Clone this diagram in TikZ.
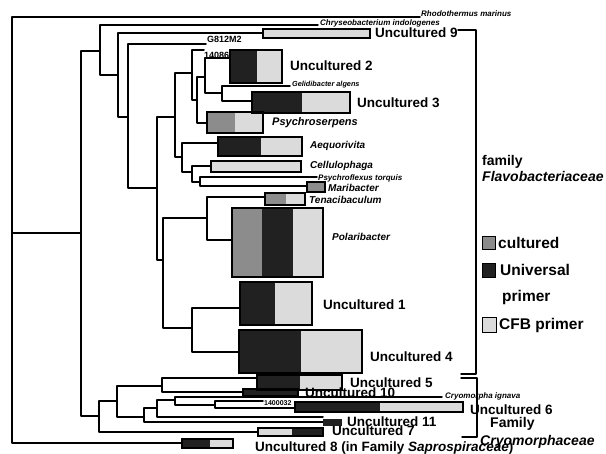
\documentclass[tikz,border=0pt]{standalone}
\usepackage{fontspec}
\setmainfont{Liberation Sans}
\usetikzlibrary{fit}
\definecolor{cul}{gray}{0.55}
\definecolor{uni}{gray}{0.13}
\definecolor{cfb}{gray}{0.86}
\tikzset{
  ln/.style={line width=1.5pt, line join=round, line cap=round},
  bx/.style={draw, line width=1.2pt, inner sep=0pt, rectangle},
  big/.style={font=\fontsize{13.5}{14}\selectfont\bfseries, anchor=west, inner sep=0pt},
  gen/.style={font=\fontsize{10}{11}\selectfont\bfseries\itshape, anchor=west, inner sep=0pt},
  tinylab/.style={font=\fontsize{8}{9}\selectfont\bfseries\itshape, anchor=west, inner sep=0pt},
  numlab/.style={font=\fontsize{9}{10}\selectfont\bfseries, anchor=west, inner sep=0pt},
  leg/.style={font=\fontsize{14}{15}\selectfont\bfseries, anchor=west, inner sep=0pt},
  legb/.style={font=\fontsize{15.5}{16}\selectfont\bfseries, anchor=west, inner sep=0pt},
}
\begin{document}
\begin{tikzpicture}[x=1pt,y=-1pt]
\useasboundingbox (0,0) rectangle (606,454);
% internal nodes
\coordinate (R) at (12,233);
\coordinate (M) at (81,233);
\coordinate (F) at (100,51);
\coordinate (G) at (118,75);
\coordinate (H) at (128,117);
\coordinate (I) at (157,188);
\coordinate (J) at (175,117);
\coordinate (N2) at (192,73);
\coordinate (N3) at (197,100);
\coordinate (N4) at (205,77);
\coordinate (N6) at (222,93);
\coordinate (N5) at (182,157);
\coordinate (N7) at (192,172);
\coordinate (N8) at (200,182);
\coordinate (K) at (163,260);
\coordinate (L) at (207,218);
\coordinate (M2) at (192,328);
\coordinate (C) at (99,416);
\coordinate (D) at (117,401);
\coordinate (Q) at (162,386);
\coordinate (E) at (144,417);
\coordinate (E2) at (157,408);
\coordinate (S) at (175,400);
\coordinate (T) at (215,405);
% leaf ends
\coordinate (rho) at (420,17);
\coordinate (chl) at (318,25);
\coordinate (u9l) at (263,33);
\coordinate (g8l) at (206,44);
\coordinate (l14) at (204,50);
\coordinate (u2l) at (230,58);
\coordinate (gel) at (290,86);
\coordinate (u3l) at (252,101);
\coordinate (psl) at (207,123);
\coordinate (aql) at (218,143);
\coordinate (cel) at (211,166);
\coordinate (pfl) at (317,177);
\coordinate (mal) at (307,186);
\coordinate (tel) at (265,197);
\coordinate (pol) at (232,240);
\coordinate (u1l) at (240,308);
\coordinate (u4l) at (239,352);
\coordinate (u5l) at (257,378);
\coordinate (u10l) at (243,392);
\coordinate (cryl) at (442,397);
\coordinate (l140) at (263,401);
\coordinate (u6l) at (295,408);
\coordinate (u11m) at (323,417);
\coordinate (u11l) at (323,422);
\coordinate (u7l) at (258,432);
\coordinate (u8l) at (182,443);
% edges
\draw[ln] (R) |- (rho);
\draw[ln] (R) |- (M);
\draw[ln] (R) |- (u8l);
\draw[ln] (M) |- (F);
\draw[ln] (M) |- (C);
\draw[ln] (F) |- (chl);
\draw[ln] (F) |- (G);
\draw[ln] (G) |- (u9l);
\draw[ln] (G) |- (H);
\draw[ln] (H) |- (g8l);
\draw[ln] (H) |- (I);
\draw[ln] (I) |- (J);
\draw[ln] (I) |- (K);
\draw[ln] (J) |- (N2);
\draw[ln] (J) |- (N5);
\draw[ln] (N2) |- (l14);
\draw[ln] (N2) |- (N3);
\draw[ln] (N3) |- (N4);
\draw[ln] (N3) |- (psl);
\draw[ln] (N4) |- (u2l);
\draw[ln] (N4) |- (N6);
\draw[ln] (N6) |- (gel);
\draw[ln] (N6) |- (u3l);
\draw[ln] (N5) |- (aql);
\draw[ln] (N5) |- (N7);
\draw[ln] (N7) |- (cel);
\draw[ln] (N7) |- (N8);
\draw[ln] (N8) |- (pfl);
\draw[ln] (N8) |- (mal);
\draw[ln] (K) |- (L);
\draw[ln] (K) |- (M2);
\draw[ln] (L) |- (tel);
\draw[ln] (L) |- (pol);
\draw[ln] (M2) |- (u1l);
\draw[ln] (M2) |- (u4l);
\draw[ln] (C) |- (D);
\draw[ln] (C) |- (u7l);
\draw[ln] (D) |- (Q);
\draw[ln] (D) |- (E);
\draw[ln] (Q) |- (u5l);
\draw[ln] (Q) |- (u10l);
\draw[ln] (E) |- (E2);
\draw[ln] (E) |- (u11l);
\draw[ln] (E2) |- (S);
\draw[ln] (E2) |- (u11m);
\draw[ln] (S) |- (cryl);
\draw[ln] (S) |- (T);
\draw[ln] (T) |- (l140);
\draw[ln] (T) |- (u6l);
% small number label partly under box
\node[numlab] (t14) at (204,55) {14086};
% box fills
\fill[cfb] (263,29) rectangle (370,38);
\fill[uni] (230,50) rectangle (257,83); \fill[cfb] (257,50) rectangle (282,83);
\fill[uni] (252,92) rectangle (302,113); \fill[cfb] (302,92) rectangle (350,113);
\fill[cul] (207,112) rectangle (235,133); \fill[cfb] (235,112) rectangle (263,133);
\fill[uni] (218,137) rectangle (261,156); \fill[cfb] (261,137) rectangle (302,156);
\fill[cfb] (211,161) rectangle (301,172);
\fill[cul] (307,182) rectangle (325,192);
\fill[cul] (265,193) rectangle (286,205); \fill[cfb] (286,193) rectangle (305,205);
\fill[cul] (232,208) rectangle (262,277); \fill[uni] (262,208) rectangle (293,277); \fill[cfb] (293,208) rectangle (323,277);
\fill[uni] (240,282) rectangle (275,325); \fill[cfb] (275,282) rectangle (312,325);
\fill[uni] (239,330) rectangle (301,373); \fill[cfb] (301,330) rectangle (362,373);
\fill[uni] (257,375) rectangle (300,390); \fill[cfb] (300,375) rectangle (342,390);
\fill[uni] (243,389) rectangle (298,396);
\fill[uni] (295,402) rectangle (380,412); \fill[cfb] (380,402) rectangle (463,412);
\fill[cfb] (258,428) rectangle (292,436); \fill[uni] (292,428) rectangle (323,436);
\fill[uni] (323,419) rectangle (342,426);
\fill[uni] (182,439) rectangle (210,448); \fill[cfb] (210,439) rectangle (233,448);
% box borders
\node[bx, fit={(263,29) (370,38)}] (b9) {};
\node[bx, fit={(230,50) (282,83)}] (b2) {};
\node[bx, fit={(252,92) (350,113)}] (b3) {};
\node[bx, fit={(207,112) (263,133)}] (bpsy) {};
\node[bx, fit={(218,137) (302,156)}] (baeq) {};
\node[bx, fit={(211,161) (301,172)}] (bcel) {};
\node[bx, fit={(307,182) (325,192)}] (bmar) {};
\node[bx, fit={(265,193) (305,205)}] (bten) {};
\node[bx, fit={(232,208) (323,277)}] (bpol) {};
\node[bx, fit={(240,282) (312,325)}] (b1) {};
\node[bx, fit={(239,330) (362,373)}] (b4) {};
\node[bx, fit={(257,375) (342,390)}] (b5) {};
\node[bx, fit={(243,389) (298,396)}] (b10) {};
\node[bx, fit={(295,402) (463,412)}] (b6) {};
\node[bx, fit={(258,428) (323,436)}] (b7) {};
\node[bx, fit={(182,439) (233,448)}] (b8) {};
% leaf labels
\node[tinylab] (trho) at (421,14) {Rhodothermus marinus};
\node[tinylab] (tchr) at (320,23) {Chryseobacterium indologenes};
\node[numlab] (tg8) at (207,39) {G812M2};
\node[tinylab, font=\fontsize{7.3}{8}\selectfont\bfseries\itshape] (tgel) at (292,85) {Gelidibacter algens};
\node[tinylab] (tpfl) at (318,178) {Psychroflexus torquis};
\node[tinylab] (tcry) at (445,396) {Cryomorpha ignava};
\node[tinylab, font=\fontsize{7}{8}\selectfont\bfseries] (t140) at (264,403) {1400032};
\node[gen, font=\fontsize{11}{12}\selectfont\bfseries\itshape] (tpsy) at (272,123) {Psychroserpens};
\node[gen] (taeq) at (310,146) {Aequorivita};
\node[gen] (tcel) at (310,166) {Cellulophaga};
\node[gen] (tmar) at (328,188) {Maribacter};
\node[gen] (tten) at (309,200) {Tenacibaculum};
\node[gen] (tpol) at (332,237) {Polaribacter};
\node[big] (t9) at (375,33) {Uncultured 9};
\node[big] (t2) at (290,66) {Uncultured 2};
\node[big] (t3) at (357,103) {Uncultured 3};
\node[big] (t1) at (323,305) {Uncultured 1};
\node[big] (t4) at (370,357) {Uncultured 4};
\node[big] (t5) at (350,383) {Uncultured 5};
\node[big] (t10) at (305,393) {Uncultured 10};
\node[big] (t6) at (470,410) {Uncultured 6};
\node[big] (t11) at (347,422) {Uncultured 11};
\node[big] (t7) at (332,431) {Uncultured 7};
\node[big] (t8) at (255,448) {Uncultured 8 (in Family \textit{Saprospiraceae})};
% brackets
\coordinate (fa) at (458,30); \coordinate (fb) at (476,30);
\coordinate (fc) at (476,374); \coordinate (fd) at (461,374);
\draw[ln] (fa) -- (fb) -- (fc) -- (fd);
\coordinate (ca) at (461,378); \coordinate (cb) at (477,378);
\coordinate (cc) at (477,437); \coordinate (cd) at (462,437);
\draw[ln] (ca) -- (cb) -- (cc) -- (cd);
% family labels
\node[leg] (tfam1) at (482,162) {family};
\node[leg, font=\fontsize{14}{15}\selectfont\bfseries\itshape] (tflav) at (482,176) {Flavobacteriaceae};
\node[leg] (tfam2) at (490,424) {Family};
\node[leg, font=\fontsize{14}{15}\selectfont\bfseries\itshape] (tcryo) at (480,442) {Cryomorphaceae};
% legend
\node[bx, fill=cul, minimum width=13pt, minimum height=13pt, anchor=north west] (lg1) at (482,236) {};
\node[legb] (tl1) at (498,243) {cultured};
\node[bx, fill=uni, minimum width=13pt, minimum height=14pt, anchor=north west] (lg2) at (482,263) {};
\node[legb] (tl2) at (500,270) {Universal};
\node[legb] (tl2b) at (502,297) {primer};
\node[bx, fill=cfb, minimum width=14pt, minimum height=15pt, anchor=north west] (lg3) at (482,317) {};
\node[legb] (tl3) at (499,325) {CFB primer};
\end{tikzpicture}
\end{document}
